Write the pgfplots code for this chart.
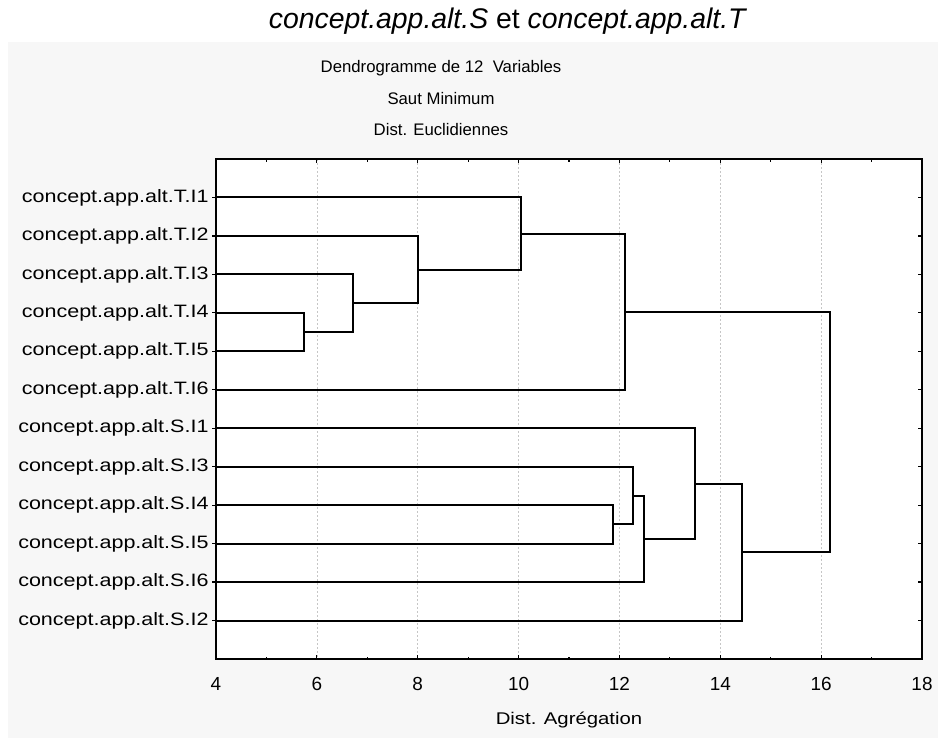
\documentclass[border=0pt]{standalone}
\usepackage{fontspec}
\setmainfont{Liberation Sans}
\newfontfamily\widefont{Liberation Sans}[FakeStretch=1.2]
\usepackage{pgfplots}
\pgfplotsset{compat=1.18}
\definecolor{bgpanel}{HTML}{F7F7F7}
\begin{document}
\begin{tikzpicture}
\fill[white] (0bp,0bp) rectangle (938bp,738bp);
\fill[bgpanel] (8bp,0bp) rectangle (938bp,696bp);
\begin{axis}[
  at={(216bp,79bp)}, anchor=south west,
  scale only axis, width=706bp, height=500bp,
  xmin=4, xmax=18, ymin=0, ymax=13, y dir=reverse,
  axis background/.style={fill=white},
  axis line style={line width=2bp, black},
  xtick={4,6,...,18}, minor x tick num=1,
  xticklabel pos=lower, xtick pos=both,
  xtick align=inside,
  major tick length=4bp, minor tick length=2.5bp,
  every tick/.style={black, line width=1.2bp},
  ytick={1,...,12}, ytick pos=left, ytick align=outside,
  yticklabels={concept.app.alt.T.I1,concept.app.alt.T.I2,concept.app.alt.T.I3,concept.app.alt.T.I4,concept.app.alt.T.I5,concept.app.alt.T.I6,concept.app.alt.S.I1,concept.app.alt.S.I3,concept.app.alt.S.I4,concept.app.alt.S.I5,concept.app.alt.S.I6,concept.app.alt.S.I2},
  yticklabel style={font=\widefont\fontsize{18}{20}\selectfont},
  xticklabel style={font=\fontsize{19}{21}\selectfont, yshift=-15bp},
  /pgf/number format/assume math mode=true,
  xmajorgrids, grid style={gray!45, dash pattern=on 2bp off 2bp, line width=0.6bp},
]
\addplot[black, line width=2bp, no marks] coordinates {(4,4) (5.75,4) (5.75,5) (4,5)};
\addplot[black, line width=2bp, no marks] coordinates {(4,3) (6.71,3) (6.71,4.5) (5.75,4.5)};
\addplot[black, line width=2bp, no marks] coordinates {(4,2) (8.01,2) (8.01,3.75) (6.71,3.75)};
\addplot[black, line width=2bp, no marks] coordinates {(4,1) (10.05,1) (10.05,2.875) (8.01,2.875)};
\addplot[black, line width=2bp, no marks] coordinates {(10.05,1.9375) (12.12,1.9375) (12.12,6) (4,6)};
\addplot[black, line width=2bp, no marks] coordinates {(4,9) (11.88,9) (11.88,10) (4,10)};
\addplot[black, line width=2bp, no marks] coordinates {(4,8) (12.26,8) (12.26,9.5) (11.88,9.5)};
\addplot[black, line width=2bp, no marks] coordinates {(12.26,8.75) (12.49,8.75) (12.49,11) (4,11)};
\addplot[black, line width=2bp, no marks] coordinates {(4,7) (13.50,7) (13.50,9.875) (12.49,9.875)};
\addplot[black, line width=2bp, no marks] coordinates {(13.50,8.4375) (14.43,8.4375) (14.43,12) (4,12)};
\addplot[black, line width=2bp, no marks] coordinates {(12.12,3.96875) (16.17,3.96875) (16.17,10.21875) (14.43,10.21875)};
\end{axis}
\begin{axis}[
  at={(216bp,79bp)}, anchor=south west,
  scale only axis, width=706bp, height=500bp,
  xmin=4, xmax=18, ymin=0, ymax=13, y dir=reverse,
  axis line style={draw=none},
  xtick=\empty,
  ytick={1,...,12}, ytick pos=right, ytick align=inside,
  yticklabels={},
  major tick length=4bp,
  every tick/.style={black, line width=1.2bp},
]
\end{axis}
\node[font=\fontsize{28.5}{32}\selectfont] at (508bp,717bp) {\textit{concept.app.alt.S} et \textit{concept.app.alt.T}};
\node[font=\fontsize{16.8}{19}\selectfont] at (441bp,670bp) {Dendrogramme de 12\ \ Variables};
\node[font=\fontsize{16.8}{19}\selectfont] at (441bp,639bp) {Saut Minimum};
\node[font=\fontsize{16.8}{19}\selectfont] at (441bp,608bp) {Dist. Euclidiennes};
\node[font=\widefont\fontsize{17}{20}\selectfont] at (569bp,18bp) {Dist. Agrégation};
\end{tikzpicture}
\end{document}
